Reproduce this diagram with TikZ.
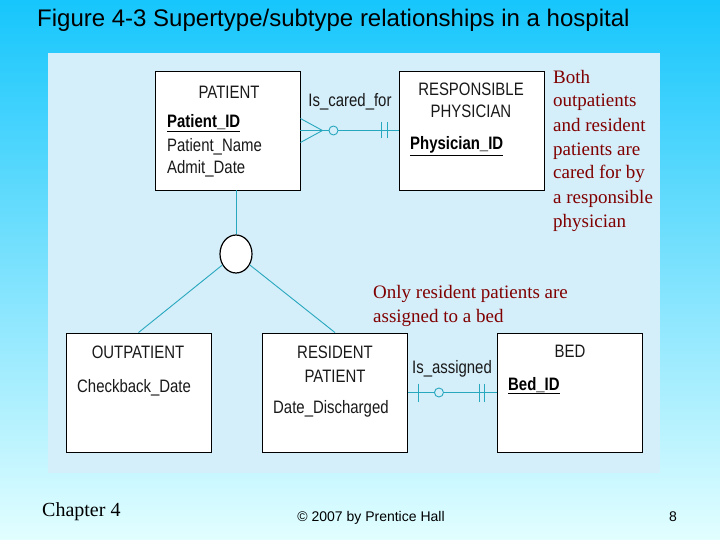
\documentclass[tikz,border=0pt]{standalone}
\usepackage{fontspec}
\setmainfont{Liberation Serif}
\setsansfont{Liberation Sans}
\newfontfamily\erfont[FakeStretch=0.83]{Liberation Sans}
\usetikzlibrary{shapes.geometric,positioning,calc}
\definecolor{panel}{RGB}{212,238,250}
\definecolor{skytop}{RGB}{22,198,252}
\definecolor{skybot}{RGB}{226,254,255}
\definecolor{rel}{RGB}{40,168,190}
\definecolor{note}{RGB}{128,0,0}
\tikzset{
  entity/.style={draw=black, fill=white, line width=0.9pt, minimum width=145pt, minimum height=119pt, inner sep=0pt},
  supertype/.style={draw=black, fill=white, ellipse, line width=1.2pt, minimum width=32pt, minimum height=38pt, inner sep=0pt},
  ertext/.style={font={\erfont\fontsize{18}{20}\selectfont}, text=black!90, inner sep=0pt},
  keyattr/.style={font={\erfont\bfseries\fontsize{18}{20}\selectfont}, inner sep=0pt},
  link/.style={draw=rel, line width=0.9pt},
  remark/.style={font=\fontsize{19}{24}\selectfont, text=note, align=left, inner sep=0pt},
}
\begin{document}
\begin{tikzpicture}[x=1pt,y=-1pt]
    \useasboundingbox (0,0) rectangle (720,540);
    \shade[top color=skytop, bottom color=skybot] (0,0) rectangle (720,540);
    \fill[panel] (48,53) rectangle (660,473);
    \node[anchor=base west, inner sep=0pt, font=\sffamily\fontsize{24}{28}\selectfont] (title) at (37,27)
        {Figure 4-3 Supertype/subtype relationships in a hospital};

    \node[entity] (patient) at (227.5,130.5) {};
    \node[entity] (physician) at (472,130.5) {};
    \node[entity] (outpatient) at (138.5,392.5) {};
    \node[entity] (resident) at (335,392.5) {};
    \node[entity] (bed) at (570,392.5) {};
    \node[supertype] (super) at (236,254) {};

    \node[ertext, anchor=base] (patientname) at (229,99) {PATIENT};
    \node[keyattr, anchor=base west] (patientid) at (167,128) {\underline{Patient\_ID}};
    \node[ertext, anchor=base west] (patientnm) at (167,152) {Patient\_Name};
    \node[ertext, anchor=base west] (admit) at (167,174) {Admit\_Date};
    \node[ertext, anchor=base, align=center] (physname) at (471,118) {RESPONSIBLE\\[2pt]PHYSICIAN};
    \node[keyattr, anchor=base west] (physid) at (410,150) {\underline{Physician\_ID}};
    \node[ertext, anchor=base] (outname) at (138,358) {OUTPATIENT};
    \node[ertext, anchor=base west] (checkback) at (77,392) {Checkback\_Date};
    \node[ertext, anchor=base, align=center] (resname) at (335,382) {RESIDENT\\[4pt]PATIENT};
    \node[ertext, anchor=base west] (discharged) at (273,413) {Date\_Discharged};
    \node[ertext, anchor=base] (bedname) at (570,357) {BED};
    \node[keyattr, anchor=base west] (bedid) at (508,390) {\underline{Bed\_ID}};

    \draw[link] (super.north) -- (super.north |- patient.south);
    \draw[link] (super) -- (outpatient.north);
    \draw[link] (super) -- (resident.north);

    \draw[link] (patient.east) -- (physician.west);
    \draw[link] ($(patient.east)+(0,-12)$) -- ($(patient.east)+(22,0)$) -- ($(patient.east)+(0,12)$);
    \draw[link, fill=panel] ($(patient.east)+(33,0)$) circle[radius=4.5pt];
    \draw[link] ($(physician.west)+(-18,-8)$) -- ($(physician.west)+(-18,8)$);
    \draw[link] ($(physician.west)+(-12,-8)$) -- ($(physician.west)+(-12,8)$);
    \node[ertext, anchor=base] (caredfor) at (350,107) {Is\_cared\_for};

    \draw[link] (resident.east) -- (bed.west);
    \draw[link] ($(resident.east)+(10,-9)$) -- ($(resident.east)+(10,9)$);
    \draw[link, fill=panel] ($(resident.east)+(31,0)$) circle[radius=4.5pt];
    \draw[link] ($(bed.west)+(-18,-9)$) -- ($(bed.west)+(-18,9)$);
    \draw[link] ($(bed.west)+(-13,-9)$) -- ($(bed.west)+(-13,9)$);
    \node[ertext, anchor=base] (assigned) at (452,373) {Is\_assigned};

    \node[remark, anchor=base west] (both) at (553,227)
        {Both\\outpatients\\and resident\\patients are\\cared for by\\a responsible\\physician};
    \node[remark, anchor=base west] (onlyres) at (373,322)
        {Only resident patients are\\assigned to a bed};

    \node[anchor=base west, inner sep=0pt, font=\fontsize{20}{22}\selectfont] (chapter) at (42,516) {Chapter 4};
    \node[anchor=base, inner sep=0pt, font=\sffamily\fontsize{14}{16}\selectfont] (copy) at (371,521) {\textcopyright{} 2007 by Prentice Hall};
    \node[anchor=base, inner sep=0pt, font=\sffamily\fontsize{14}{16}\selectfont] (page) at (673,521) {8};
\end{tikzpicture}
\end{document}
